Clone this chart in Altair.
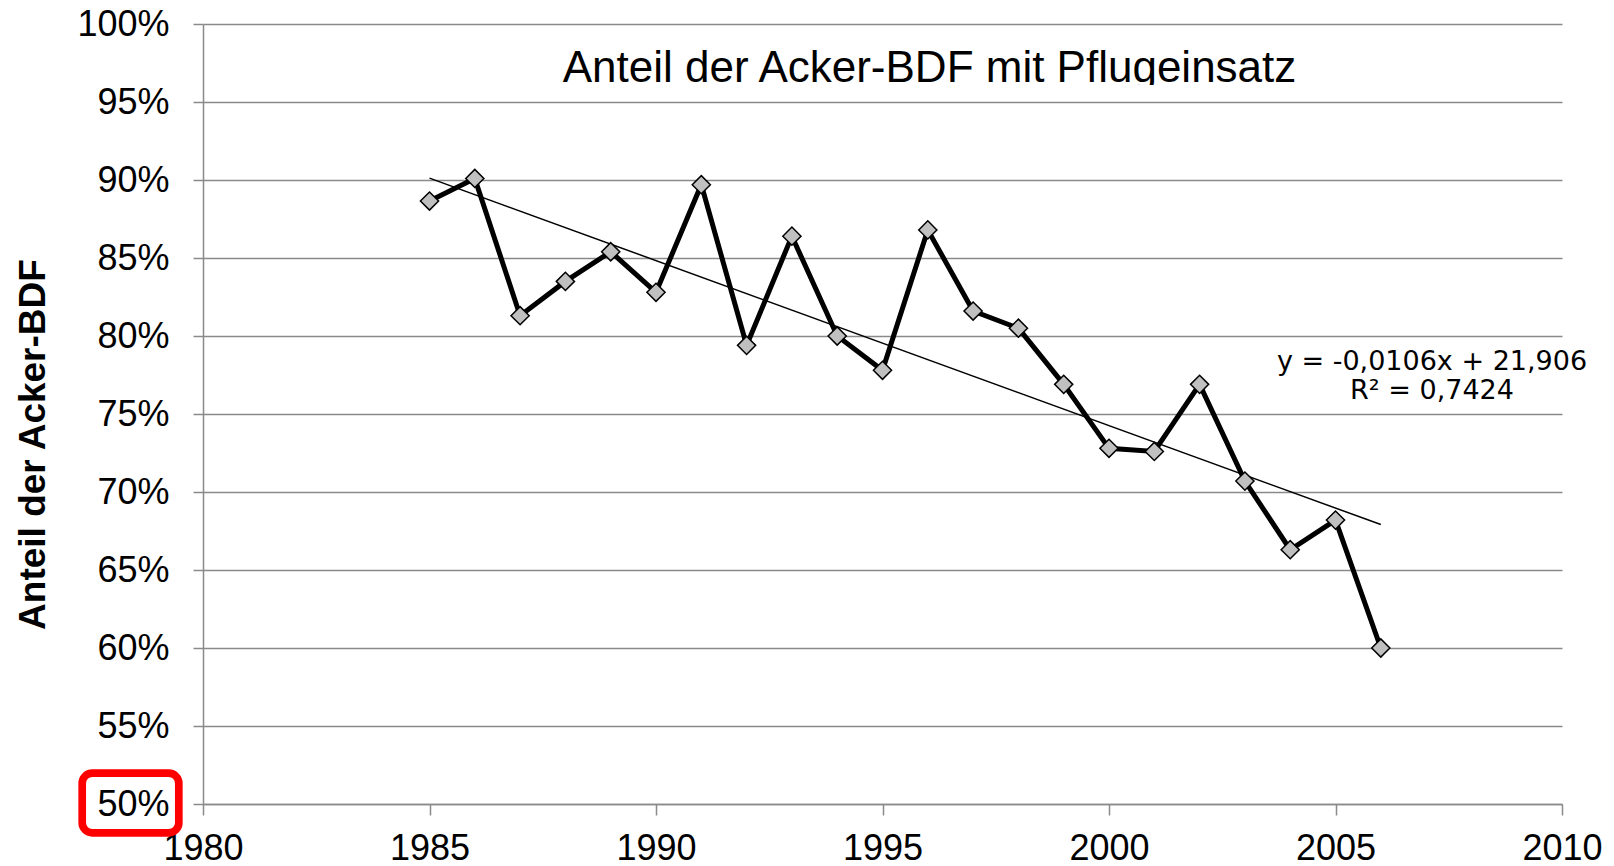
import altair as alt
import pandas as pd

# ---- data ----
years = list(range(1985, 2007))
shares = [0.8865, 0.901, 0.813, 0.835, 0.854, 0.828, 0.897, 0.794, 0.864, 0.800,
          0.778, 0.868, 0.816, 0.805, 0.769, 0.728, 0.726, 0.769, 0.707, 0.663,
          0.682, 0.600]
x_ticks = [1980, 1985, 1990, 1995, 2000, 2005, 2010]
y_ticks = [0.50, 0.55, 0.60, 0.65, 0.70, 0.75, 0.80, 0.85, 0.90, 0.95, 1.00]
chart_title = "Anteil der Acker-BDF mit Pflugeinsatz"
y_title = "Anteil der Acker-BDF"
trend_text = ["y = -0,0106x + 21,906", "R² = 0,7424"]

df = pd.DataFrame({"year": years, "share": shares})
one = pd.DataFrame({"k": [0]})

FONT = "Liberation Sans"
GRID = "#8a8a8a"

x_enc = alt.X(
    "year:Q",
    scale=alt.Scale(domain=[1980, 2010], nice=False, zero=False),
    axis=alt.Axis(
        values=x_ticks, format="d", grid=False, title=None,
        tickSize=11, tickWidth=1.5, tickColor=GRID,
        domainColor=GRID, domainWidth=1.5,
        labelFont=FONT, labelFontSize=36, labelColor="black",
        labelPadding=16, labelFlush=False, labelOverlap=False,
    ),
)
y_enc = alt.Y(
    "share:Q",
    scale=alt.Scale(domain=[0.5, 1.0], nice=False, zero=False),
    axis=alt.Axis(
        values=y_ticks, format=".0%", grid=True,
        gridColor=GRID, gridWidth=1.5,
        tickSize=10, tickWidth=1.5, tickColor=GRID,
        domainColor=GRID, domainWidth=1.5,
        labelFont=FONT, labelFontSize=36, labelColor="black",
        labelPadding=24, labelFlush=False, labelOverlap=False,
        title=y_title, titleFont=FONT, titleFontSize=37, titleFontWeight="bold",
        titleColor="black", titleAngle=270, titleAlign="center",
        titleBaseline="alphabetic", titleX=-159, titleY=420,
    ),
)

base = alt.Chart(df)

line = base.mark_line(color="black", strokeWidth=5).encode(x=x_enc, y=y_enc)

points = base.mark_point(
    shape="diamond", filled=True, fill="#c0c0c0", stroke="black",
    strokeWidth=1.5, size=330, opacity=1,
).encode(x="year:Q", y="share:Q")

trend = base.transform_regression(
    "year", "share", extent=[1985, 2006]
).mark_line(color="black", strokeWidth=1.5).encode(x="year:Q", y="share:Q")

title = alt.Chart(one).mark_text(
    text=chart_title, font=FONT, fontSize=44, color="black",
    align="center", baseline="alphabetic",
).encode(x=alt.value(726.5), y=alt.value(58))

title_clip = alt.Chart(one).mark_rect(color="white").encode(
    x=alt.value(340), x2=alt.value(1110), y=alt.value(61), y2=alt.value(72)
)

trend1 = alt.Chart(one).mark_text(
    text=trend_text[0], font="DejaVu Sans", fontSize=27, color="black",
    align="center", baseline="alphabetic",
).encode(x=alt.value(1229), y=alt.value(346))

trend2 = alt.Chart(one).mark_text(
    text=trend_text[1], font="DejaVu Sans", fontSize=27, color="black",
    align="center", baseline="alphabetic",
).encode(x=alt.value(1229), y=alt.value(375))

red_box = alt.Chart(one).mark_rect(
    filled=False, stroke="#ff0000", strokeWidth=7.7, cornerRadius=10
).encode(
    x=alt.value(-120.8), x2=alt.value(-24.2), y=alt.value(749.2), y2=alt.value(808.8)
)

chart = alt.layer(
    line, trend, points, title, title_clip, trend1, trend2, red_box
).properties(
    width=1359, height=780, autosize="none",
    padding={"left": 195, "top": 16, "right": 40, "bottom": 70},
    background="white",
).configure_view(stroke=None)

chart.save("out.html", embed_options={"renderer": "svg", "actions": False})
